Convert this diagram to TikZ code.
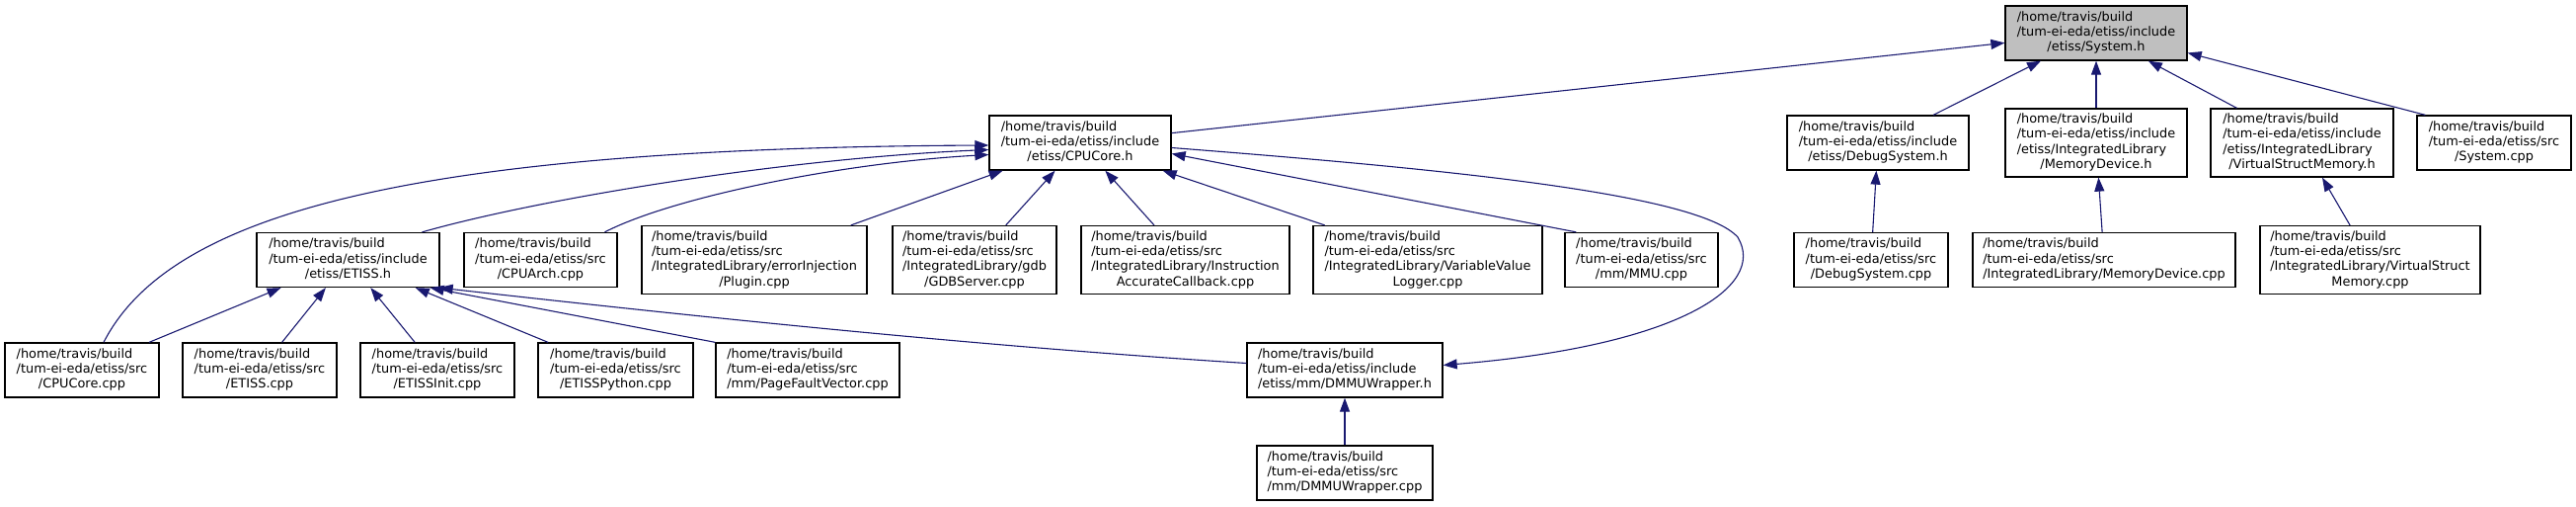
\documentclass[tikz,border=0pt]{standalone}
\usepackage{fontspec}
\setmainfont{DejaVu Sans}
\usepackage{xcolor}
\usepackage{tikz}
\usetikzlibrary{arrows.meta,calc}
\definecolor{midnight}{RGB}{25,25,112}
\definecolor{curgray}{RGB}{191,191,191}
% file label: left aligned lines, last line centred
\newcommand{\flab}[2]{\begin{tabular}{@{}l@{}}#1\\\multicolumn{1}{@{}c@{}}{#2}\end{tabular}}

\begin{document}
\begin{tikzpicture}[x=1pt,y=-1pt,>={Triangle[length=14pt,width=10pt]},
  font=\fontsize{12.9}{15.3}\selectfont,
  file/.style={draw=black,line width=1.3pt,fill=white,inner sep=0pt,minimum height=55pt},
  tall/.style={minimum height=69pt},
  cur/.style={file,fill=curgray},
  incl/.style={draw=midnight,line width=1.1pt,->}]
\useasboundingbox (0,0) rectangle (2609,512);
% rank 1
\node[cur,minimum width=184pt] (sys) at (2123,33.5){\flab{/home/travis/build\\/tum-ei-eda/etiss/include}{/etiss/System.h}};
% rank 2
\node[file,minimum width=184pt] (cpuh) at (1094,144.5){\flab{/home/travis/build\\/tum-ei-eda/etiss/include}{/etiss/CPUCore.h}};
\node[file,minimum width=184pt] (dbgh) at (1902,144.5){\flab{/home/travis/build\\/tum-ei-eda/etiss/include}{/etiss/DebugSystem.h}};
\node[file,tall,minimum width=184pt] (memh) at (2123,144.5){\flab{/home/travis/build\\/tum-ei-eda/etiss/include\\/etiss/IntegratedLibrary}{/MemoryDevice.h}};
\node[file,tall,minimum width=185pt] (vsmh) at (2331.5,144.5){\flab{/home/travis/build\\/tum-ei-eda/etiss/include\\/etiss/IntegratedLibrary}{/VirtualStructMemory.h}};
\node[file,minimum width=156pt] (syscpp) at (2526,144.5){\flab{/home/travis/build\\/tum-ei-eda/etiss/src}{/System.cpp}};
% rank 3
\node[file,minimum width=185pt] (etissh) at (352.5,263){\flab{/home/travis/build\\/tum-ei-eda/etiss/include}{/etiss/ETISS.h}};
\node[file,minimum width=155pt] (cpuarch) at (547.5,263){\flab{/home/travis/build\\/tum-ei-eda/etiss/src}{/CPUArch.cpp}};
\node[file,tall,minimum width=228pt] (errinj) at (764,263){\flab{/home/travis/build\\/tum-ei-eda/etiss/src\\/IntegratedLibrary/errorInjection}{/Plugin.cpp}};
\node[file,tall,minimum width=166pt] (gdb) at (987,263){\flab{/home/travis/build\\/tum-ei-eda/etiss/src\\/IntegratedLibrary/gdb}{/GDBServer.cpp}};
\node[file,tall,minimum width=211pt] (iac) at (1200.5,263){\flab{/home/travis/build\\/tum-ei-eda/etiss/src\\/IntegratedLibrary/Instruction}{AccurateCallback.cpp}};
\node[file,tall,minimum width=232pt] (vvl) at (1446,263){\flab{/home/travis/build\\/tum-ei-eda/etiss/src\\/IntegratedLibrary/VariableValue}{Logger.cpp}};
\node[file,minimum width=155pt] (mmu) at (1662.5,263){\flab{/home/travis/build\\/tum-ei-eda/etiss/src}{/mm/MMU.cpp}};
\node[file,minimum width=156pt] (dbgcpp) at (1895,263){\flab{/home/travis/build\\/tum-ei-eda/etiss/src}{/DebugSystem.cpp}};
\node[file,minimum width=266pt] (memcpp) at (2131,263){\flab{/home/travis/build\\/tum-ei-eda/etiss/src}{/IntegratedLibrary/MemoryDevice.cpp}};
\node[file,tall,minimum width=223pt] (vsmcpp) at (2400.5,263){\flab{/home/travis/build\\/tum-ei-eda/etiss/src\\/IntegratedLibrary/VirtualStruct}{Memory.cpp}};
% rank 4
\node[file,minimum width=156pt] (cpucpp) at (83,374.5){\flab{/home/travis/build\\/tum-ei-eda/etiss/src}{/CPUCore.cpp}};
\node[file,minimum width=156pt] (etisscpp) at (263,374.5){\flab{/home/travis/build\\/tum-ei-eda/etiss/src}{/ETISS.cpp}};
\node[file,minimum width=156pt] (init) at (443,374.5){\flab{/home/travis/build\\/tum-ei-eda/etiss/src}{/ETISSInit.cpp}};
\node[file,minimum width=157pt] (python) at (623.5,374.5){\flab{/home/travis/build\\/tum-ei-eda/etiss/src}{/ETISSPython.cpp}};
\node[file,minimum width=186pt] (pfv) at (818,374.5){\flab{/home/travis/build\\/tum-ei-eda/etiss/src}{/mm/PageFaultVector.cpp}};
\node[file,minimum width=198pt] (dmmuh) at (1362,374.5){\flab{/home/travis/build\\/tum-ei-eda/etiss/include}{/etiss/mm/DMMUWrapper.h}};
% rank 5
\node[file,minimum width=178pt] (dmmucpp) at (1362,478.5){\flab{/home/travis/build\\/tum-ei-eda/etiss/src}{/mm/DMMUWrapper.cpp}};

% includes of System.h
\draw[incl] (cpuh) -- (sys);
\draw[incl] (dbgh) -- (sys);
\draw[incl] (memh) -- (sys);
\draw[incl] (vsmh) -- (sys);
\draw[incl] ([xshift=9pt]syscpp.north west) -- ([yshift=-20pt]sys.east);
\draw[incl] (dbgcpp) -- (dbgh);
\draw[incl] (memcpp) -- (memh);
\draw[incl] (vsmcpp) -- (vsmh);
% includes of CPUCore.h
\draw[incl] ([xshift=22pt]cpucpp.north) .. controls (170,220) and (400,150) .. ([yshift=-2.5pt]cpuh.west);
\draw[incl] ([xshift=75pt]etissh.north) .. controls (550,200) and (800,160) .. ([yshift=-7pt]cpuh.west);
\draw[incl] ([xshift=65pt]cpuarch.north) .. controls (680,200) and (850,165) .. ([yshift=-12pt]cpuh.west);
\draw[incl] (errinj) -- (cpuh);
\draw[incl] (gdb) -- (cpuh);
\draw[incl] (iac) -- (cpuh);
\draw[incl] (vvl) -- (cpuh);
\draw[incl] ([xshift=12pt]mmu.north west) -- ([yshift=-11pt]cpuh.east);
\draw[incl] ([yshift=-5pt]cpuh.east) .. controls (1450,170) and (1720,195) .. (1760,240)
  .. controls (1790,290) and (1700,350) .. ([yshift=5pt]dmmuh.east);
% includes of ETISS.h
\draw[incl] (cpucpp) -- (etissh);
\draw[incl] (etisscpp) -- (etissh);
\draw[incl] (init) -- (etissh);
\draw[incl] (python) -- (etissh);
\draw[incl] (pfv.north west) -- ([xshift=-10pt]etissh.south east);
\draw[incl] ([yshift=7pt]dmmuh.west) .. controls (990,350) and (720,322) .. ([xshift=-1pt]etissh.south east);
\draw[incl] (dmmucpp) -- (dmmuh);
\end{tikzpicture}
\end{document}
